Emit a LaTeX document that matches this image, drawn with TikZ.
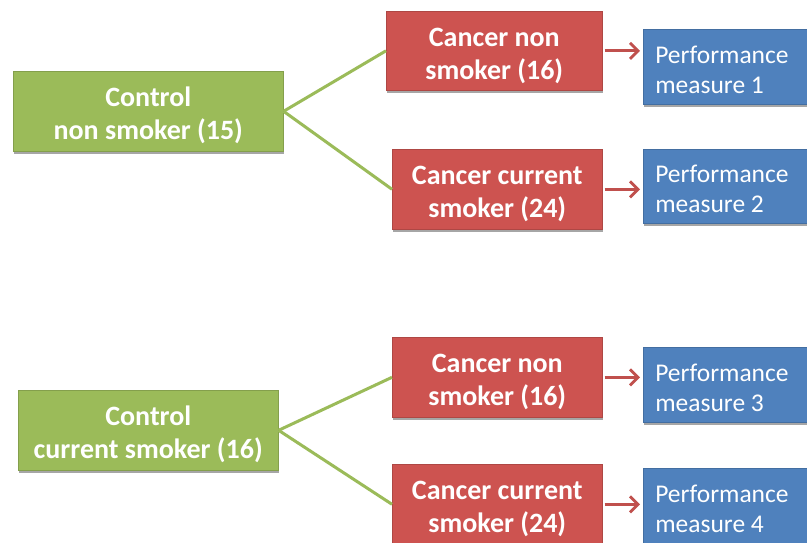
\documentclass[tikz,border=0pt]{standalone}
\usepackage{fontspec}
\setmainfont{Carlito}
\usetikzlibrary{arrows.meta,shadows}
\definecolor{cgreen}{HTML}{9BBB59}
\definecolor{cred}{HTML}{CD5350}
\definecolor{cblue}{HTML}{4F81BD}
\definecolor{cgline}{HTML}{9BBB59}
\definecolor{carrow}{HTML}{C0504D}
\tikzset{
  box/.style={anchor=north west, inner sep=0pt, text=white,
    drop shadow={shadow xshift=1pt, shadow yshift=-2.5pt, opacity=0.35, fill=black}},
  greenbox/.style={box, fill=cgreen, draw=cgreen!85!black, line width=0.6pt, align=flush center,
    font=\fontsize{28}{33}\selectfont\bfseries, execute at begin node={\rule{0pt}{28.5pt}}},
  redbox/.style={box, fill=cred, draw=cred!85!black, line width=0.6pt, align=flush center,
    font=\fontsize{28}{33}\selectfont\bfseries, execute at begin node={\rule{0pt}{28.5pt}}},
  bluebox/.style={box, fill=cblue, draw=cblue!85!black, line width=0.6pt, align=flush left,
    font=\fontsize{25.5}{30}\selectfont, inner xsep=12pt, text width=163pt, minimum height=75pt,
    execute at begin node={\rule{0pt}{23pt}}},
  gline/.style={draw=cgline, line width=3pt},
  rarrow/.style={draw=carrow, line width=3pt, -{Straight Barb[length=8pt,width=16pt,line width=2.8pt]}},
}
\begin{document}
\begin{tikzpicture}[x=1pt,y=-1pt]
\clip (0,0) rectangle (807,543);
\fill[white] (0,0) rectangle (807,543);
\node[greenbox, text width=270pt, minimum height=80pt] (g1) at (13,71) {Control\\non smoker (15)};
\node[redbox, text width=216pt, minimum height=79pt] (r1) at (386,11) {Cancer non\\smoker (16)};
\node[redbox, text width=210pt, minimum height=80pt] (r2) at (392,149) {Cancer current\\smoker (24)};
\node[bluebox] (b1) at (643,29) {Performance\\measure 1};
\node[bluebox, minimum height=74pt] (b2) at (643,149) {Performance\\measure 2};

\node[greenbox, text width=260pt, minimum height=80pt] (g2) at (18,390) {Control\\current smoker (16)};
\node[redbox, text width=210pt, minimum height=80pt] (r3) at (392,337) {Cancer non\\smoker (16)};
\node[redbox, text width=210pt, minimum height=80pt] (r4) at (392,464) {Cancer current\\smoker (24)};
\node[bluebox] (b3) at (643,347) {Performance\\measure 3};
\node[bluebox] (b4) at (643,468) {Performance\\measure 4};

\draw[gline] (g1.east) -- (r1.west);
\draw[gline] (g1.east) -- (r2.west);
\draw[gline] (g2.east) -- (r3.west);
\draw[gline] (g2.east) -- (r4.west);

\draw[rarrow] ([xshift=2pt]r1.east) -- ([xshift=-3pt]b1.west |- r1.east);
\draw[rarrow] ([xshift=2pt]r2.east) -- ([xshift=-3pt]b2.west |- r2.east);
\draw[rarrow] ([xshift=2pt]r3.east) -- ([xshift=-3pt]b3.west |- r3.east);
\draw[rarrow] ([xshift=2pt]r4.east) -- ([xshift=-3pt]b4.west |- r4.east);
\end{tikzpicture}
\end{document}
